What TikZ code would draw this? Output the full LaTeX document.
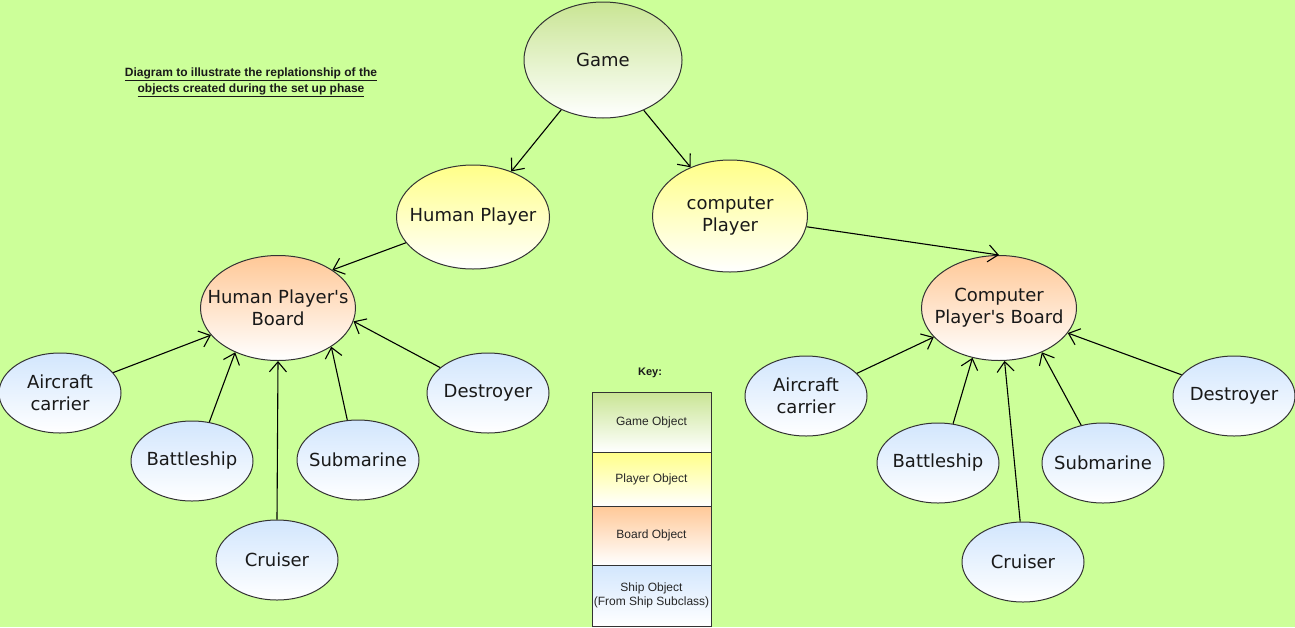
\documentclass[tikz,border=0pt]{standalone}
\usepackage{fontspec}
\setmainfont{DejaVu Sans}
\newfontfamily\arialf{Liberation Sans}
\usetikzlibrary{shapes.geometric,arrows.meta}
\definecolor{bgc}{HTML}{CCFF99}
\definecolor{edgec}{HTML}{333333}
\definecolor{gamec}{HTML}{C9E594}
\definecolor{playc}{HTML}{FFFF88}
\definecolor{boardc}{HTML}{FFC897}
\definecolor{shipc}{HTML}{D2E6FD}
\newcommand{\apos}{\XeTeXglyph\XeTeXcharglyph"27\relax}
\tikzset{
  lbl/.style={align=center, font=\fontsize{18}{22}\selectfont, text=black!90, inner sep=0pt},
  obj/.style={ellipse, draw=edgec, line width=1pt, inner sep=0pt, label={[lbl]center:#1}},
  gameobj/.style={obj={#1}, top color=gamec, bottom color=white, minimum width=158pt, minimum height=116pt},
  playobj/.style={obj={#1}, top color=playc, bottom color=white, minimum width=153pt, minimum height=104pt},
  boardobj/.style={obj={#1}, top color=boardc, bottom color=white, minimum width=155pt, minimum height=105pt},
  shipobj/.style={obj={#1}, top color=shipc, bottom color=white, minimum width=122pt, minimum height=80pt},
  link/.style={draw=black, line width=1.1pt, -{Straight Barb[length=10pt,width=17pt,line width=1.1pt]}},
  keyrow/.style={rectangle, draw=edgec, line width=0.8pt, minimum width=119pt, inner sep=0pt,
    align=center, font=\arialf\fontsize{12}{14}\selectfont, text=black!85, bottom color=white},
  titletext/.style={align=center, font=\arialf\bfseries\fontsize{12}{16}\selectfont, text=black!90}
}
\begin{document}
\begin{tikzpicture}[x=1pt,y=-1pt]
\fill[bgc] (0,0) rectangle (1295,627);
\useasboundingbox (0,0) rectangle (1295,627);

\node[titletext] (title) at (251,82) {\underline{Diagram to illustrate the replationship of the}\\\underline{objects created during the set up phase}};

\node[gameobj={Game}] (game) at (603,60) {};
\node[playobj={Human Player}] (hp) at (473,217) {};
\node[playobj={computer\\Player}, minimum width=155pt, minimum height=112pt] (cp) at (730,216) {};
\node[boardobj={Human Player\apos s\\Board}] (hpb) at (278,308) {};
\node[boardobj={Computer\\Player\apos s Board}] (cpb) at (999,308) {};

\node[shipobj={Aircraft\\carrier}] (acl) at (60,393) {};
\node[shipobj={Battleship}] (bsl) at (192,461) {};
\node[shipobj={Cruiser}] (crl) at (277,560) {};
\node[shipobj={Submarine}] (sul) at (358,460) {};
\node[shipobj={Destroyer}] (del) at (488,393) {};

\node[shipobj={Aircraft\\carrier}] (acr) at (806,396) {};
\node[shipobj={Battleship}] (bsr) at (938,463) {};
\node[shipobj={Cruiser}] (crr) at (1023,562) {};
\node[shipobj={Submarine}] (sur) at (1103,463) {};
\node[shipobj={Destroyer}] (der) at (1234,396) {};

\draw[link] (game.230) -- (hp.50);
\draw[link] (game.309) -- (cp.129);
\draw[link] (hp.201) -- (hpb.35);
\draw[link] (cp.352) -- (cpb.90);

\draw[link] (acl.21) -- (hpb.202);
\draw[link] (bsl.66) -- (hpb.226);
\draw[link] (crl.90) -- (hpb.270);
\draw[link] (sul.105) -- (hpb.324);
\draw[link] (del.152) -- (hpb.350);

\draw[link] (acr.24) -- (cpb.204);
\draw[link] (bsr.69) -- (cpb.242);
\draw[link] (crr.94) -- (cpb.276);
\draw[link] (sur.120) -- (cpb.314);
\draw[link] (der.158) -- (cpb.340);

\node[font=\arialf\bfseries\fontsize{11}{13}\selectfont, text=black!90] (keyt) at (650,373) {Key:};
\node[keyrow, top color=gamec, minimum height=60pt] (k1) at (651.5,422) {Game Object};
\node[keyrow, top color=playc, minimum height=54pt] (k2) at (651.5,479) {Player Object};
\node[keyrow, top color=boardc, minimum height=59pt] (k3) at (651.5,535.5) {Board Object};
\node[keyrow, top color=shipc, minimum height=61pt] (k4) at (651.5,595.5) {Ship Object\\(From Ship Subclass)};
\end{tikzpicture}
\end{document}
